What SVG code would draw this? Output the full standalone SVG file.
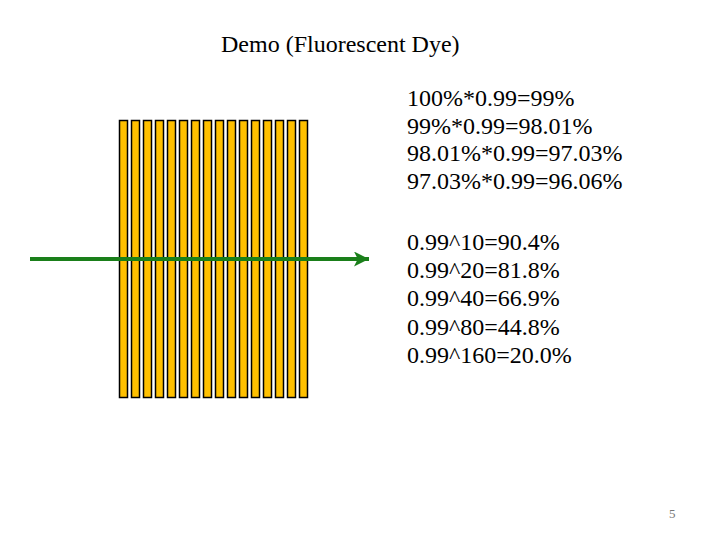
<svg xmlns="http://www.w3.org/2000/svg" width="720" height="540" viewBox="0 0 720 540">
<style>
.t{font-size:24px;fill:#000}
.bar{fill:#FFC000;stroke:#000;stroke-width:1.5}
</style>
<defs>
<marker id="ah" viewBox="0 0 10 10" refX="10" refY="5" markerWidth="4" markerHeight="3.75" orient="auto" markerUnits="strokeWidth">
<path d="M0,0 L10,5 L0,10 L2.5,5 Z" fill="#1A7F1A"/>
</marker>
</defs>
<rect width="720" height="540" fill="#fff"/>
<g font-family="Liberation Serif">
<g id="title"><text class="t" x="221" y="52">Demo (Fluorescent Dye)</text></g>
<g id="calc1">
<text class="t" x="407" y="106">100%*0.99=99%</text>
<text class="t" x="407" y="134">99%*0.99=98.01%</text>
<text class="t" x="407" y="161">98.01%*0.99=97.03%</text>
<text class="t" x="407" y="189">97.03%*0.99=96.06%</text>
</g>
<g id="calc2">
<text class="t" x="407" y="250">0.99^10=90.4%</text>
<text class="t" x="407" y="278">0.99^20=81.8%</text>
<text class="t" x="407" y="306">0.99^40=66.9%</text>
<text class="t" x="407" y="335">0.99^80=44.8%</text>
<text class="t" x="407" y="363">0.99^160=20.0%</text>
</g>
<g id="page"><text x="669" y="518" font-size="13" fill="#777">5</text></g>
</g>
<g id="bars">
<rect class="bar" x="119.5" y="120.5" width="8" height="277"/>
<rect class="bar" x="131.5" y="120.5" width="8" height="277"/>
<rect class="bar" x="143.5" y="120.5" width="8" height="277"/>
<rect class="bar" x="155.5" y="120.5" width="8" height="277"/>
<rect class="bar" x="167.5" y="120.5" width="8" height="277"/>
<rect class="bar" x="179.5" y="120.5" width="8" height="277"/>
<rect class="bar" x="191.5" y="120.5" width="8" height="277"/>
<rect class="bar" x="203.5" y="120.5" width="8" height="277"/>
<rect class="bar" x="215.5" y="120.5" width="8" height="277"/>
<rect class="bar" x="227.5" y="120.5" width="8" height="277"/>
<rect class="bar" x="239.5" y="120.5" width="8" height="277"/>
<rect class="bar" x="251.5" y="120.5" width="8" height="277"/>
<rect class="bar" x="263.5" y="120.5" width="8" height="277"/>
<rect class="bar" x="275.5" y="120.5" width="8" height="277"/>
<rect class="bar" x="287.5" y="120.5" width="8" height="277"/>
<rect class="bar" x="299.5" y="120.5" width="8" height="277"/>
</g>
<g id="connectors">
<line x1="30" y1="259" x2="369" y2="259" stroke="#1A7F1A" stroke-width="4" marker-end="url(#ah)"/>
</g>
</svg>
